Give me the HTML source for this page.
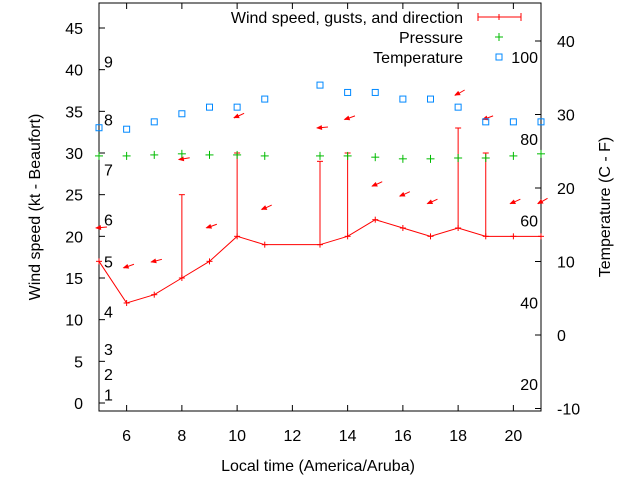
<!DOCTYPE html>
<html><head><meta charset="utf-8"><style>
body{margin:0;background:#fff}
svg{display:block;font-family:"Liberation Sans",sans-serif}
</style></head><body>
<svg id="c" width="640" height="480" viewBox="0 0 640 480"></svg>
<script>
const hours=[5,6,7,8,9,10,11,13,14,15,16,17,18,19,20,21];
const windSpeed=[17,12,13,15,17,20,19,19,20,22,21,20,21,20,20,20];
const gustHours=[8,10,13,14,18,19];
const gustBase=[15,20,19,20,21,20];
const gustValues=[25,30,29,30,33,30];
const pressure=[29.65,29.65,29.77,29.9,29.77,29.77,29.65,29.65,29.65,29.5,29.3,29.3,29.4,29.4,29.65,29.9];
const tempC=[28.2,28,29,30.1,31,31,32.1,34,33,33,32.1,32.1,31,29,29,29];
const dirY=[21,16.2,16.9,29.2,21,34.2,23.2,33,34,26,24.8,23.9,36.9,34,23.9,23.9];
const dirAngle=[-5,-20,-15,-10,-20,-25,-25,-5,-20,-25,-25,-25,-30,-20,-25,-30];
const xTicks=[6,8,10,12,14,16,18,20];
const yTicks=[0,5,10,15,20,25,30,35,40,45];
const y2Ticks=[-10,0,10,20,30,40];
const beaufort=[[1,1],[2,3.5],[3,6.5],[4,11],[5,17],[6,22],[7,28],[8,34],[9,41]];
const fahr=[[20,-6.7],[40,4.4],[60,15.6],[80,26.7],[100,37.8]];

const L=99,R=541,T=3,B=411,FS=16;
const X=h=>L+(h-5)/16*(R-L);
const Y=v=>B-(v+0.96)/48.96*(B-T);
const Y2=v=>335-v*7.35;
const svg=document.getElementById('c');
const NS='http://www.w3.org/2000/svg';
function mk(tag,at,parent){const e=document.createElementNS(NS,tag);for(const k in at)e.setAttribute(k,at[k]);(parent||svg).appendChild(e);return e;}
function txt(s,x,y,anchor,name){const t=mk('text',{x:x,y:y,'font-size':FS,'text-anchor':anchor||'middle',fill:'#000'});t.textContent=s;


return t;}

const frame=mk('rect',{x:L,y:T,width:R-L,height:B-T,fill:'none',stroke:'#000','stroke-width':1});



xTicks.forEach(v=>{const x=X(v);
mk('line',{x1:x,y1:B,x2:x,y2:B-6,stroke:'#000'});mk('line',{x1:x,y1:T,x2:x,y2:T+6,stroke:'#000'});
txt(String(v),x,441,'middle','x-tick-label');});
yTicks.forEach(v=>{const y=Y(v);mk('line',{x1:L,y1:y,x2:L+6,y2:y,stroke:'#000'});
txt(String(v),83,y+6,'end','y-tick-label');});
y2Ticks.forEach(v=>{const y=Y2(v);mk('line',{x1:R,y1:y,x2:R-6,y2:y,stroke:'#000'});
txt(String(v),557,y+6,'start','y2-tick-label');});
beaufort.forEach(b=>txt(String(b[0]),104,Y(b[1])+6,'start','beaufort-label'));
fahr.forEach(f=>txt(String(f[0]),538,Y2(f[1])+6,'end','fahrenheit-label'));

txt('Local time (America/Aruba)',318,471,'middle','x-axis-title');
const yt=txt('Wind speed (kt - Beaufort)',0,0,'middle','y-axis-title');yt.setAttribute('transform','translate(40,207) rotate(-90)');
const yt2=txt('Temperature (C - F)',0,0,'middle','y2-axis-title');yt2.setAttribute('transform','translate(610,207) rotate(-90)');

let pts=hours.map((h,i)=>X(h)+','+Y(windSpeed[i])).join(' ');
const wl=mk('polyline',{points:pts,fill:'none',stroke:'#f00','stroke-width':1});


hours.forEach((h,i)=>{const x=X(h),y=Y(windSpeed[i]);
mk('line',{x1:x-3,y1:y,x2:x+3,y2:y,stroke:'#f00'});mk('line',{x1:x,y1:y-3,x2:x,y2:y+3,stroke:'#f00'});});
gustHours.forEach((h,i)=>{const x=X(h);
const g=mk('line',{x1:x,y1:Y(gustBase[i]),x2:x,y2:Y(gustValues[i]),stroke:'#f00'});


mk('line',{x1:x-3,y1:Y(gustValues[i]),x2:x+3,y2:Y(gustValues[i]),stroke:'#f00'});});
hours.forEach((h,i)=>{const x=X(h)-3,y=Y(dirY[i]);const a=dirAngle[i]*Math.PI/180;
const tx=x+11*Math.cos(a),ty=y+11*Math.sin(a);
const g=mk('g',{});


mk('line',{x1:x,y1:y,x2:tx,y2:ty,stroke:'#f00','stroke-width':1},g);
const ca=Math.cos(a),sa=Math.sin(a);
mk('polygon',{points:`${x-1},${y} ${x+5*ca-2.5*sa},${y+5*sa+2.5*ca} ${x+5*ca+2.5*sa},${y+5*sa-2.5*ca}`,fill:'#f00'},g);});
hours.forEach((h,i)=>{const x=X(h),y=Y(pressure[i]);const g=mk('g',{stroke:'#0b0'});


mk('line',{x1:x-4,y1:y,x2:x+4,y2:y},g);mk('line',{x1:x,y1:y-4,x2:x,y2:y+4},g);});
hours.forEach((h,i)=>{const x=X(h),y=Y2(tempC[i]);
const r=mk('rect',{x:x-3,y:y-3,width:6,height:6,fill:'none',stroke:'#08f'});

});
txt('Wind speed, gusts, and direction',463,23,'end','legend-wind');
mk('line',{x1:478,y1:17,x2:521,y2:17,stroke:'#f00'});mk('line',{x1:478,y1:13,x2:478,y2:21,stroke:'#f00'});
mk('line',{x1:521,y1:13,x2:521,y2:21,stroke:'#f00'});mk('line',{x1:499,y1:14,x2:499,y2:20,stroke:'#f00'});
txt('Pressure',463,43,'end','legend-pressure');
mk('line',{x1:495,y1:37,x2:503,y2:37,stroke:'#0b0'});mk('line',{x1:499,y1:33,x2:499,y2:41,stroke:'#0b0'});
txt('Temperature',463,63,'end','legend-temperature');
mk('rect',{x:496,y:54,width:6,height:6,fill:'none',stroke:'#08f'});
</script>
</body></html>
